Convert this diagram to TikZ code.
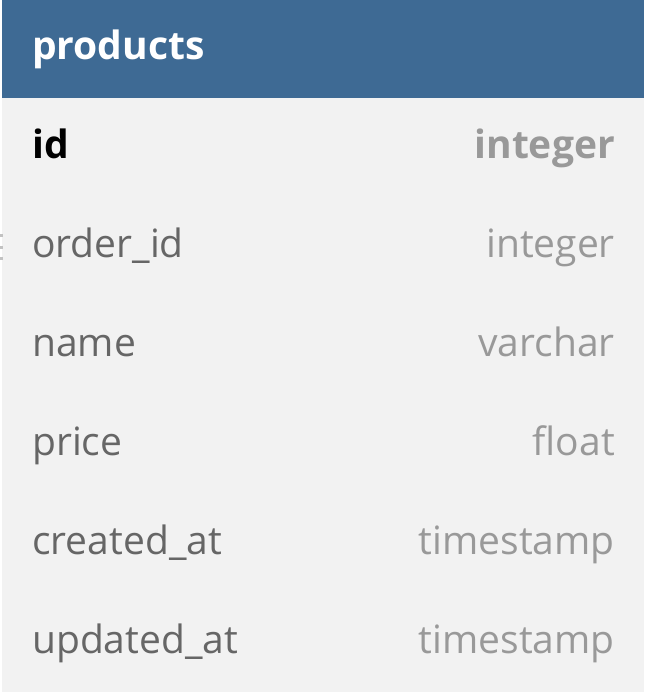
\documentclass[tikz,border=0pt]{standalone}
\usepackage{fontspec}
\setmainfont{Open Sans}
\definecolor{hdrblue}{RGB}{62,106,148}
\definecolor{tblgray}{RGB}{242,242,242}
\definecolor{leftgray}{RGB}{102,102,102}
\definecolor{rightgray}{RGB}{153,153,153}
\begin{document}
\begin{tikzpicture}[x=1pt,y=-1pt,
  fname/.style={anchor=base west,inner sep=0pt,text=leftgray,font=\fontsize{39}{42}\selectfont},
  ftype/.style={anchor=base east,inner sep=0pt,text=rightgray,font=\fontsize{39}{42}\selectfont},
  hdr/.style={anchor=base west,inner sep=0pt,text=white,font=\fontsize{39}{42}\selectfont\bfseries}]
\useasboundingbox (0,0) rectangle (646,694);
\fill[white] (0,0) rectangle (646,694);
\fill[tblgray] (2,0) rectangle (644,692);
\fill[hdrblue] (2,0) rectangle (644,98);
\node[hdr] (title) at (32,59) {products};
\node[fname,text=black,font=\fontsize{39}{42}\selectfont\bfseries] (n1) at (32,158) {id};
\node[ftype,font=\fontsize{39}{42}\selectfont\bfseries] (t1) at (615,158) {integer};
\node[fname] (n2) at (32,257) {order\_id};
\node[ftype] (t2) at (615,257) {integer};
\node[fname] (n3) at (32,356) {name};
\node[ftype] (t3) at (615,356) {varchar};
\node[fname] (n4) at (32,455) {price};
\node[ftype] (t4) at (615,455) {float};
\node[fname] (n5) at (32,554) {created\_at};
\node[ftype] (t5) at (615,554) {timestamp};
\node[fname] (n6) at (32,653) {updated\_at};
\node[ftype] (t6) at (615,653) {timestamp};
\foreach \yy in {235,247,258} \fill[rightgray!60] (0,\yy-1.5) rectangle (2.5,\yy+1.5);
\end{tikzpicture}
\end{document}
